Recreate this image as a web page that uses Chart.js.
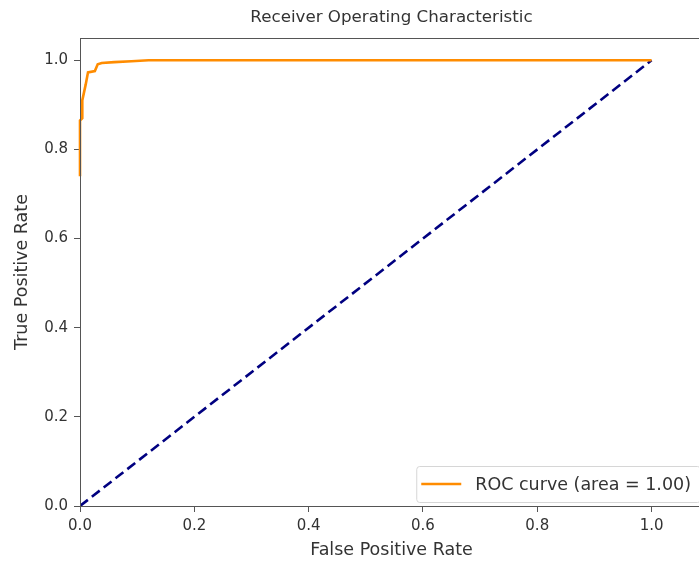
<!DOCTYPE html>
<html>
<head>
<meta charset="utf-8">
<script src="https://cdn.jsdelivr.net/npm/chart.js@4.4.1/dist/chart.umd.min.js"></script>
<style>
  html, body { margin: 0; padding: 0; background: #fff; overflow: hidden; }
  #wrap { width: 712px; height: 561px; }
</style>
</head>
<body>
<div id="wrap"><canvas id="roc"></canvas></div>
<script>
// ROC curve
const fpr = [0.0, 0.0, 0.004, 0.004, 0.010, 0.014, 0.026, 0.031, 0.038, 0.060, 0.090, 0.120, 1.0];
const tpr = [0.74, 0.865, 0.870, 0.910, 0.946, 0.973, 0.976, 0.991, 0.994, 0.996, 0.998, 1.0, 1.0];
const diagX = [0.0, 1.0];
const diagY = [0.0, 1.0];
const xTicks = [0.0, 0.2, 0.4, 0.6, 0.8, 1.0];
const yTicks = [0.0, 0.2, 0.4, 0.6, 0.8, 1.0];
const rocLabel = 'ROC curve (area = 1.00)';

const FONT = 'DejaVu Sans';
const TXT = '#333';

function toPoints(xs, ys) {
    return xs.map((x, i) => ({ x: x, y: ys[i] }));
}

// matplotlib style box round the axes, drawn on top of the lines
const framePlugin = {
    id: 'frame',
    afterDatasetsDraw(chart) {
        const a = chart.chartArea;
        const ctx = chart.ctx;
        ctx.save();
        ctx.strokeStyle = '#555';
        ctx.lineWidth = 1;
        ctx.strokeRect(Math.round(a.left) + 0.5, Math.round(a.top) + 0.5,
            Math.round(a.right - a.left), Math.round(a.bottom - a.top));
        ctx.restore();
    }
};

// legend in the lower right corner, inside the axes
const cornerLegend = {
    id: 'cornerLegend',
    afterDraw(chart) {
        const ds = chart.data.datasets[0];
        const a = chart.chartArea;
        const ctx = chart.ctx;
        ctx.save();
        ctx.font = '17.5px "' + FONT + '"';
        const tw = ctx.measureText(ds.label).width;
        const w = 5 + 40 + 14 + tw + 9;
        const h = 36;
        const right = a.right - 3;
        const bottom = a.bottom - 4;
        const x = right - w, y = bottom - h;
        ctx.fillStyle = 'rgba(255,255,255,0.8)';
        ctx.strokeStyle = '#d6d6d6';
        ctx.lineWidth = 1;
        ctx.beginPath();
        ctx.roundRect(x + 0.5, y + 0.5, w, h, 3);
        ctx.fill();
        ctx.stroke();
        ctx.strokeStyle = ds.borderColor;
        ctx.lineWidth = ds.borderWidth;
        ctx.beginPath();
        ctx.moveTo(x + 5, y + h / 2);
        ctx.lineTo(x + 45, y + h / 2);
        ctx.stroke();
        ctx.fillStyle = TXT;
        ctx.textBaseline = 'middle';
        ctx.fillText(ds.label, x + 59, y + h / 2 + 1);
        ctx.restore();
    }
};

new Chart(document.getElementById('roc'), {
    type: 'line',
    data: {
        datasets: [{
            label: rocLabel,
            data: toPoints(fpr, tpr),
            borderColor: '#ff8c00',
            borderWidth: 2.6,
            pointRadius: 0,
            tension: 0,
            clip: false
        }, {
            label: 'chance',
            data: toPoints(diagX, diagY),
            borderColor: '#000080',
            borderWidth: 2.6,
            borderDash: [10, 5],
            pointRadius: 0,
            tension: 0
        }]
    },
    options: {
        responsive: true,
        maintainAspectRatio: false,
        animation: false,
        layout: { padding: { left: 0, right: 9, top: 0, bottom: 0 } },
        plugins: {
            legend: { display: false },
            tooltip: { enabled: false },
            title: {
                display: true,
                fullSize: false,
                text: 'Receiver Operating Characteristic',
                color: TXT,
                font: { family: FONT, size: 16.7, weight: 'normal' },
                padding: { top: 8, bottom: 10 }
            }
        },
        scales: {
            x: {
                type: 'linear',
                min: 0,
                max: 1.09,
                afterBuildTicks: s => { s.ticks = xTicks.map(v => ({ value: v })); },
                afterFit: s => { s.height = 55; },
                ticks: {
                    color: TXT,
                    font: { family: FONT, size: 15 },
                    padding: 5,
                    maxRotation: 0,
                    callback: v => v.toFixed(1)
                },
                grid: { drawOnChartArea: false, drawTicks: true, tickLength: 6, color: '#555' },
                border: { display: false },
                title: {
                    display: true,
                    text: 'False Positive Rate',
                    color: TXT,
                    font: { family: FONT, size: 17.5 },
                    padding: { top: 0, bottom: 0 }
                }
            },
            y: {
                type: 'linear',
                min: 0,
                max: 1.05,
                afterBuildTicks: s => { s.ticks = yTicks.map(v => ({ value: v })); },
                afterFit: s => { s.width = 80; },
                ticks: {
                    color: TXT,
                    font: { family: FONT, size: 15 },
                    padding: 6,
                    callback: v => v.toFixed(1)
                },
                grid: { drawOnChartArea: false, drawTicks: true, tickLength: 6, color: '#555' },
                border: { display: false },
                title: {
                    display: true,
                    text: 'True Positive Rate',
                    color: TXT,
                    font: { family: FONT, size: 17.5 },
                    padding: { top: 11.5, bottom: 0 }
                }
            }
        }
    },
    plugins: [framePlugin, cornerLegend]
});
</script>
</body>
</html>
